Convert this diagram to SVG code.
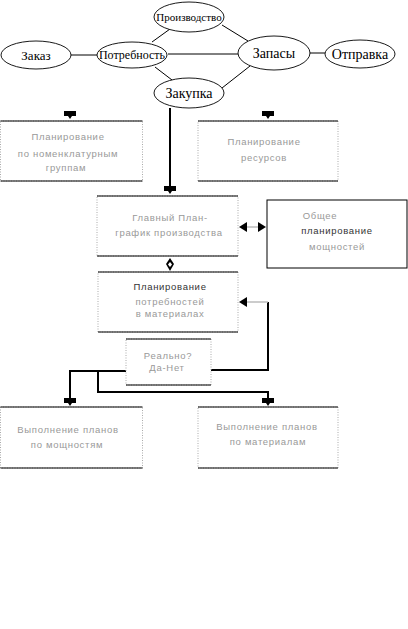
<svg xmlns="http://www.w3.org/2000/svg" width="408" height="629" viewBox="0 0 408 629">
<style>
.el{fill:#fff;stroke:#000;stroke-width:0.9}
.et{font-family:"Liberation Serif",serif;fill:#000;text-anchor:middle}
.bx{fill:#fff;stroke:#aaa;stroke-width:1;stroke-dasharray:1 1.5}
.bt{font-family:"Liberation Sans",sans-serif;font-size:9.5px;fill:#999;text-anchor:middle;letter-spacing:0.7px}
.dk{fill:#333}
.ln{stroke:#000;stroke-width:1;fill:none}
.th{stroke:#000;stroke-width:2;fill:none}
.gr{stroke:#bbb;stroke-width:1.5;fill:none}
</style>
<defs>
<path id="tee" d="M-6,-8 H6 V-3 H2 L0,0 L-2,-3 H-6 Z" fill="#000"/>
<path id="al" d="M0,0 L8,-5 V5 Z" fill="#000"/>
</defs>
<g id="connectors">
<line class="ln" x1="71" y1="55" x2="97" y2="55"/>
<line class="ln" x1="168" y1="54" x2="238" y2="54"/>
<line class="ln" x1="152" y1="42" x2="170" y2="29"/>
<line class="ln" x1="222" y1="25" x2="248" y2="41"/>
<line class="ln" x1="155" y1="67" x2="172" y2="80"/>
<line class="ln" x1="222" y1="88" x2="250" y2="66"/>
<line class="ln" x1="309" y1="53" x2="325" y2="53"/>
<line class="th" x1="170" y1="108" x2="170" y2="188"/>
<use href="#tee" x="170" y="194"/>
<use href="#tee" x="70" y="119"/>
<use href="#tee" x="268" y="119"/>
<line class="gr" x1="246" y1="227" x2="259" y2="227"/>
<use href="#al" x="239" y="227"/>
<use href="#al" transform="translate(266,227) rotate(180)"/>
<path d="M170,258 L174,264 L170,271 L166,264 Z" fill="#000"/>
<path d="M170,262 L172,264.5 L170,267 L168,264.5 Z" fill="#fff"/>
<polyline class="th" points="211,370 268,370 268,302"/>
<line class="gr" x1="246" y1="302" x2="268" y2="302"/>
<use href="#al" x="239" y="302"/>
<polyline class="th" points="126,371 70,371 70,400"/>
<polyline class="th" points="98,371 98,392 268,392 268,400"/>
<use href="#tee" x="70" y="406"/>
<use href="#tee" x="268" y="406"/>
</g>
<g id="n-zakaz"><ellipse class="el" cx="36" cy="55" rx="35" ry="14"/><text class="et" x="36" y="60" font-size="13">Заказ</text></g>
<g id="n-potr"><ellipse class="el" cx="132" cy="55" rx="35" ry="13"/><text class="et" x="132" y="59" font-size="12">Потребность</text></g>
<g id="n-proizv"><ellipse class="el" cx="189" cy="17" rx="35" ry="15"/><text class="et" x="189" y="21" font-size="11">Производство</text></g>
<g id="n-zapasy"><ellipse class="el" cx="274" cy="53" rx="36" ry="17"/><text class="et" x="274" y="58" font-size="14">Запасы</text></g>
<g id="n-otpr"><ellipse class="el" cx="360" cy="54" rx="35" ry="14"/><text class="et" x="360" y="59" font-size="14">Отправка</text></g>
<g id="n-zakupka"><ellipse class="el" cx="189" cy="93" rx="35" ry="15"/><text class="et" x="189" y="98" font-size="14">Закупка</text></g>
<g id="b-nomen"><rect class="bx" x="0.5" y="121" width="142" height="60"/><line class="ln" x1="0.5" y1="121" x2="142.5" y2="121"/><line class="ln" x1="0.5" y1="181" x2="142.5" y2="181"/>
<text class="bt" x="68" y="140">Планирование</text><text class="bt" x="68" y="157">по номенклатурным</text><text class="bt" x="66" y="171">группам</text></g>
<g id="b-res"><rect class="bx" x="198" y="121" width="140" height="60"/><line class="ln" x1="198" y1="121" x2="338" y2="121"/><line class="ln" x1="198" y1="181" x2="338" y2="181"/>
<text class="bt" x="264" y="145">Планирование</text><text class="bt" x="264" y="161">ресурсов</text></g>
<g id="b-main"><rect class="bx" x="97" y="196" width="141" height="60"/><line class="ln" x1="97" y1="196" x2="238" y2="196"/><line class="ln" x1="97" y1="256" x2="238" y2="256"/>
<text class="bt" x="170" y="221">Главный План-</text><text class="bt" x="169" y="236">график производства</text></g>
<g id="b-power"><rect x="267" y="200" width="140" height="68" fill="#fff" stroke="#000" stroke-width="1"/>
<text class="bt" x="320" y="219">Общее</text><text class="bt dk" x="337" y="234">планирование</text><text class="bt" x="337" y="250">мощностей</text></g>
<g id="b-mrp"><rect class="bx" x="98" y="272" width="140" height="60"/><line class="ln" x1="98" y1="272" x2="238" y2="272"/><line class="ln" x1="98" y1="332" x2="238" y2="332"/>
<text class="bt dk" x="170" y="290">Планирование</text><text class="bt" x="170" y="305">потребностей</text><text class="bt" x="170" y="317">в материалах</text></g>
<g id="b-real"><rect class="bx" x="126" y="339" width="85" height="46"/><line class="ln" x1="126" y1="339" x2="211" y2="339"/><line class="ln" x1="126" y1="385" x2="211" y2="385"/>
<text class="bt" x="168" y="359">Реально?</text><text class="bt" x="167" y="371">Да-Нет</text></g>
<g id="b-vyp1"><rect class="bx" x="0.5" y="407" width="142" height="61"/><line class="ln" x1="0.5" y1="407" x2="142.5" y2="407"/><line class="ln" x1="0.5" y1="468" x2="142.5" y2="468"/>
<text class="bt" x="68" y="433">Выполнение планов</text><text class="bt" x="67" y="448">по мощностям</text></g>
<g id="b-vyp2"><rect class="bx" x="198" y="407" width="140" height="61"/><line class="ln" x1="198" y1="407" x2="338" y2="407"/><line class="ln" x1="198" y1="468" x2="338" y2="468"/>
<text class="bt" x="267" y="430">Выполнение планов</text><text class="bt" x="268" y="445">по материалам</text></g>
</svg>
